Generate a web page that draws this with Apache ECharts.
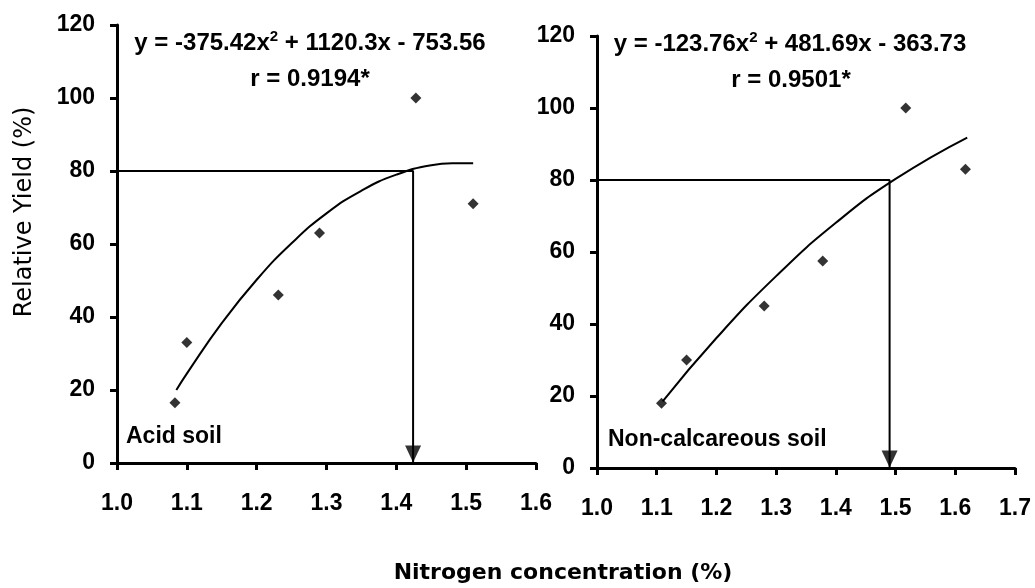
<!DOCTYPE html>
<html>
<head>
<meta charset="utf-8">
<script src="https://cdn.jsdelivr.net/npm/echarts/dist/echarts.min.js"></script>
<style>
  html, body { margin: 0; padding: 0; background: #fff; }
  #grafico { width: 1035px; height: 588px; }
</style>
</head>
<body>
<div id="grafico"></div>
<script>
var acidN = [1.083, 1.10, 1.231, 1.29, 1.428, 1.51];
var acidYield = [16.5, 33, 46, 63, 100, 71];
var acidFitN = [1.085, 1.10, 1.15, 1.20, 1.25, 1.30, 1.35, 1.40, 1.45, 1.48, 1.51];
var acidFitYield = [20.0, 24.5, 38.3, 50.2, 60.2, 68.4, 74.6, 79.0, 81.6, 82.1, 82.1];
var acidCritical = 1.424;

// Non-calcareous soil
var calcN = [1.108, 1.15, 1.28, 1.378, 1.517, 1.617];
var calcYield = [18, 30, 45, 57.5, 100, 83];
var calcFitN = [1.11, 1.20, 1.30, 1.40, 1.50, 1.62];
var calcFitYield = [18.5, 36.1, 53.3, 68.1, 80.3, 91.8];
var calcCritical = 1.49;

var criticalYield = 80;
var yTicks = [0, 120, 20];

function pares(xs, ys) {
    return xs.map(function (x, i) { return [x, ys[i]]; });
}

document.addEventListener('DOMContentLoaded', function () {

    var chartDom = document.getElementById('grafico');
    var myChart = echarts.init(chartDom);

    var fuente = 'Liberation Sans, Arial, sans-serif';
    var etiqueta = { color: '#000', fontSize: 23, fontWeight: 'bold', fontFamily: fuente };
    var lineaEje = { lineStyle: { color: '#000', width: 3 } };
    var marca = { length: 7, lineStyle: { color: '#000', width: 3 } };

    function ejeX(idx, max) {
        return {
            type: 'value', gridIndex: idx, min: 1.0, max: max, interval: 0.1,
            axisLine: lineaEje, axisTick: marca, splitLine: { show: false },
            axisLabel: Object.assign({ margin: 29, formatter: function (v) { return v.toFixed(1); } }, etiqueta)
        };
    }
    function ejeY(idx) {
        return {
            type: 'value', gridIndex: idx, min: yTicks[0], max: yTicks[1], interval: yTicks[2],
            axisLine: lineaEje, axisTick: marca, splitLine: { show: false },
            axisLabel: Object.assign({ margin: 22 }, etiqueta)
        };
    }
    function serie(idx, xs, ys, fitX, fitY, critico) {
        return [
            { type: 'line', xAxisIndex: idx, yAxisIndex: idx, data: pares(fitX, fitY), smooth: true,
              symbol: 'none', lineStyle: { color: '#000', width: 2 }, z: 3 },
            { type: 'scatter', xAxisIndex: idx, yAxisIndex: idx, data: pares(xs, ys),
              symbol: 'diamond', symbolSize: 11, itemStyle: { color: '#000' }, z: 4 },
            { type: 'line', xAxisIndex: idx, yAxisIndex: idx,
              data: [[1.0, criticalYield], [critico, criticalYield], [critico, 0]],
              symbol: 'none', lineStyle: { color: '#000', width: 2 }, z: 2 },
            // punta de flecha
            { type: 'scatter', xAxisIndex: idx, yAxisIndex: idx, data: [[critico, 0]],
              symbol: 'triangle', symbolRotate: 180, symbolSize: [16, 17], symbolOffset: [0, -9],
              itemStyle: { color: '#000' }, z: 5 }
        ];
    }
    function texto(x, y, t, extra) {
        return {
            type: 'text', x: x, y: y,
            style: Object.assign({
                text: t, fill: '#000', font: 'bold 23px ' + fuente,
                textAlign: 'center', textVerticalAlign: 'middle'
            }, extra || {})
        };
    }
    var sup = { sup: { fontSize: 15, fontWeight: 'bold', fontFamily: fuente, verticalAlign: 'top', padding: [0, 0, 12, 0] } };

    var option = {
        animation: false,
        grid: [
            { left: 117, top: 25, width: 419, height: 438 },
            { left: 597, top: 36, width: 418, height: 432 }
        ],
        xAxis: [ejeX(0, 1.6), ejeX(1, 1.7)],
        yAxis: [ejeY(0), ejeY(1)],
        series: serie(0, acidN, acidYield, acidFitN, acidFitYield, acidCritical)
            .concat(serie(1, calcN, calcYield, calcFitN, calcFitYield, calcCritical)),
        graphic: [
            texto(310, 43, 'y = -375.42x{sup|2} + 1120.3x - 753.56', { rich: sup, font: 'bold 24px ' + fuente }),
            texto(310, 79, 'r = 0.9194*', { font: 'bold 24px ' + fuente }),
            texto(790, 44, 'y = -123.76x{sup|2} + 481.69x - 363.73', { rich: sup, font: 'bold 24px ' + fuente }),
            texto(791, 80, 'r = 0.9501*', { font: 'bold 24px ' + fuente }),
            texto(126, 437, 'Acid soil', { textAlign: 'left' }),
            texto(608, 440, 'Non-calcareous soil', { textAlign: 'left' }),
            texto(563, 573, 'Nitrogen concentration (%)', { font: 'bold 22px DejaVu Sans, sans-serif' }),
            {
                type: 'text', x: 25, y: 212, rotation: Math.PI / 2,
                style: { text: 'Relative Yield (%)', fill: '#000', font: '24px DejaVu Sans, sans-serif',
                         textAlign: 'center', textVerticalAlign: 'middle' }
            }
        ]
    };

    myChart.setOption(option);

    window.addEventListener('resize', function () {
        myChart.resize();
    });
});
</script>
</body>
</html>
